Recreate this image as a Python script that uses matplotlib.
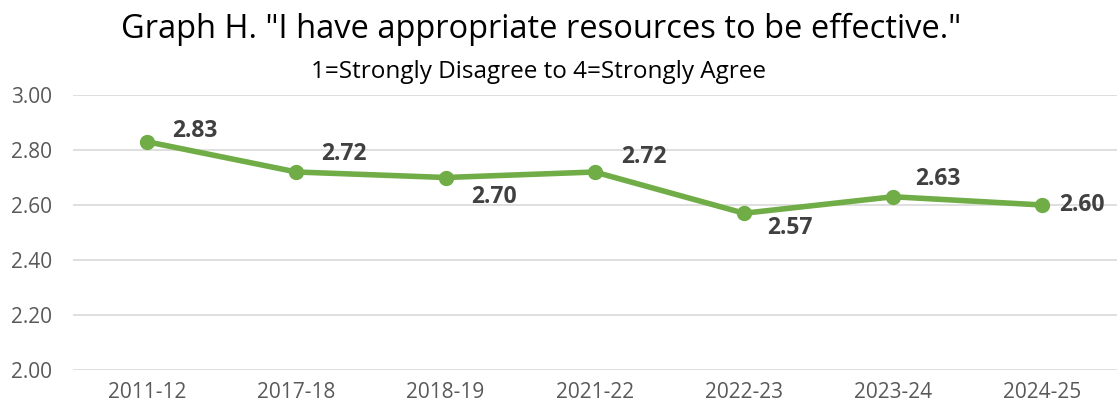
import matplotlib.pyplot as plt

# survey years and mean scores
years = ['2011-12', '2017-18', '2018-19', '2021-22', '2022-23', '2023-24', '2024-25']
scores = [2.83, 2.72, 2.70, 2.72, 2.57, 2.63, 2.60]
# label offsets in pixels (dx, dy) relative to each point
label_offsets = [(48, 11), (48, 18), (48, -19), (49, 15), (46, -15), (45, 18), (40, 0)]

plt.rcParams['font.family'] = ['Open Sans', 'DejaVu Sans']

fig = plt.figure(figsize=(11.17, 4.09), dpi=100)
ax = fig.add_axes([0.065, 0.0954, 0.935, 0.6723])

x = range(len(years))
ax.plot(x, scores, color='#70AD47', linewidth=4, marker='o', markersize=10, zorder=3,
        solid_capstyle='round')

for i, (v, (dx, dy)) in enumerate(zip(scores, label_offsets)):
    ax.annotate(f'{v:.2f}', (i, v), xytext=(dx * 0.72, dy * 0.72), textcoords='offset points',
                ha='center', va='center', fontsize=16.5, fontweight='bold', color='#404040')

ax.set_xlim(-0.5, 6.5)
ax.set_ylim(2.0, 3.0)
ax.set_yticks([2.0, 2.2, 2.4, 2.6, 2.8, 3.0])
ax.set_yticklabels([f'{t:.2f}' for t in [2.0, 2.2, 2.4, 2.6, 2.8, 3.0]])
ax.set_xticks(list(x))
ax.set_xticklabels(years)
ax.tick_params(axis='both', length=0, labelsize=15, colors='#595959')
ax.tick_params(axis='x', pad=9)
ax.tick_params(axis='y', pad=15)
ax.grid(axis='y', color='#D9D9D9', linewidth=1.2)
ax.set_axisbelow(True)
for s in ax.spines.values():
    s.set_visible(False)

fig.text(0.484, 0.927, 'Graph H. "I have appropriate resources to be effective."',
         ha='center', va='center', fontsize=23.5, color='#000000')
fig.text(0.482, 0.824, '1=Strongly Disagree to 4=Strongly Agree',
         ha='center', va='center', fontsize=17.5, color='#000000')

fig.savefig('out.png', dpi=100)
